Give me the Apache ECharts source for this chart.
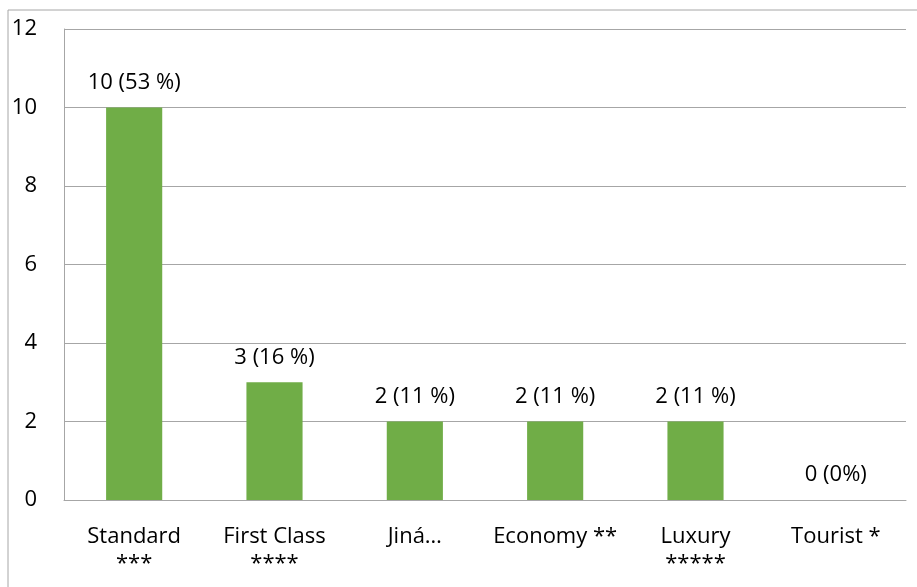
<!DOCTYPE html>
<html>
<head>
<meta charset="utf-8">
<script src="https://cdn.jsdelivr.net/npm/echarts@6/dist/echarts.min.js"></script>
<style>
  html, body { margin: 0; padding: 0; background: #fff; }
  #main { width: 917px; height: 587px; }
</style>
</head>
<body>
<div id="main"></div>
<script>
// kategorie a hodnoty
var categories = ['Standard\n***', 'First Class\n****', 'Jiná…', 'Economy **', 'Luxury\n*****', 'Tourist *'];
var values = [10, 3, 2, 2, 2, 0];
var labels = ['10 (53 %)', '3 (16 %)', '2 (11 %)', '2 (11 %)', '2 (11 %)', '0 (0%)'];
var yTicks = [0, 2, 4, 6, 8, 10, 12];

var font = '"Open Sans", sans-serif';
var myChart = echarts.init(document.getElementById('main'), null, { renderer: 'canvas' });

myChart.setOption({
    backgroundColor: '#fff',
    animation: false,
    graphic: [{
        type: 'rect',
        shape: { x: 8, y: 10, width: 1200, height: 1200 },
        style: { fill: 'none', stroke: '#a6a6a6', lineWidth: 1 },
        silent: true
    }],
    grid: { left: 64, right: 11, top: 29, bottom: 87 },
    xAxis: {
        type: 'category',
        data: categories,
        axisLine: { show: true, lineStyle: { color: '#a6a6a6', width: 1 } },
        axisTick: { show: false },
        axisLabel: {
            color: '#000',
            fontFamily: font,
            fontSize: 22,
            lineHeight: 27,
            margin: 23,
            interval: 0
        }
    },
    yAxis: {
        type: 'value',
        min: yTicks[0],
        max: yTicks[yTicks.length - 1],
        interval: 2,
        axisLine: { show: true, lineStyle: { color: '#a6a6a6', width: 1 } },
        axisTick: { show: false },
        splitLine: { show: true, lineStyle: { color: '#a6a6a6', width: 1 } },
        axisLabel: {
            color: '#000',
            fontFamily: font,
            fontSize: 22,
            margin: 27
        }
    },
    series: [{
        type: 'bar',
        data: values,
        barWidth: '40%',
        itemStyle: { color: '#70ad47' },
        label: {
            show: true,
            position: 'top',
            distance: 14,
            color: '#000',
            fontFamily: font,
            fontSize: 22,
            formatter: function (p) { return labels[p.dataIndex]; }
        }
    }]
});
</script>
</body>
</html>
